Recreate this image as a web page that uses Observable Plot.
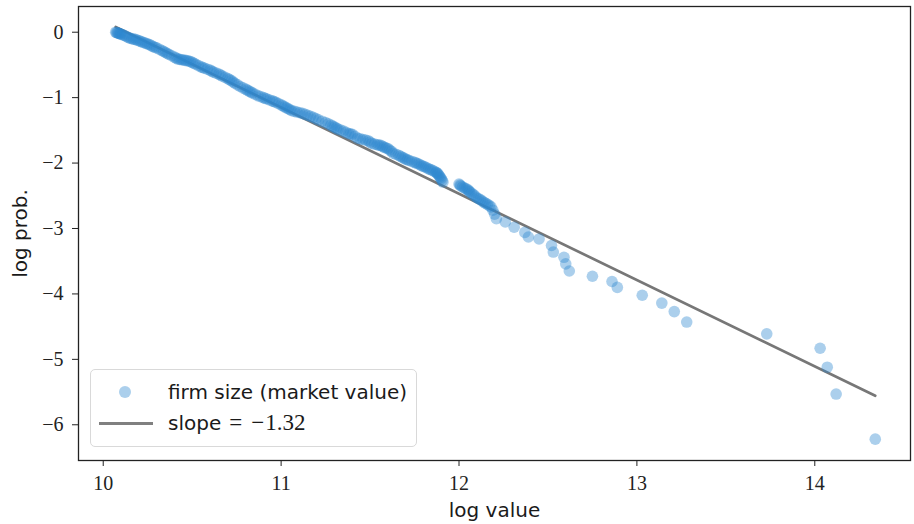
<!DOCTYPE html>
<html><head><meta charset="utf-8">
<script src="https://cdn.jsdelivr.net/npm/d3@7"></script>
<script src="https://cdn.jsdelivr.net/npm/@observablehq/plot@0.6"></script>
<style>
body{margin:0;background:#fff;}
#wrap{position:relative;width:914px;height:524px;}
#legend{position:absolute;left:90px;top:369px;width:327px;height:78px;border:1.5px solid #d9d9d9;border-radius:5px;background:rgba(255,255,255,0.8);box-sizing:border-box;font-family:"DejaVu Sans";font-size:20px;color:#1a1a1a;}
#legend .dot{position:absolute;left:28px;top:16px;width:12px;height:12px;border-radius:50%;background:#2d88cf;opacity:0.4;}
#legend .ln{position:absolute;left:8px;top:52px;width:54px;height:3px;background:#808080;}
#legend .t1{position:absolute;left:77px;top:9px;line-height:26px;white-space:nowrap;}
#legend .t2{position:absolute;left:77px;top:40px;line-height:26px;white-space:nowrap;}
#legend .m{font-family:"Liberation Serif";font-size:23px;}
#legend .eq{margin:0 9px 0 8px;}
#legend .mi{margin-right:1px;}
</style>
</head><body>
<div id="wrap"><div id="chart"></div>
<div id="legend"><div class="dot"></div><div class="t1">firm size (market value)</div><div class="ln"></div><div class="t2">slope<span class="m"><span class="eq">=</span><span class="mi">−</span>1.32</span></div></div>
</div>
<script>
// sparse / readable points (log value, log prob.)
const logValue = [
10.07,10.08,10.09,10.10,10.12,10.14,10.16,10.18,10.20,10.22,10.24,10.26,10.28,10.30,10.33,10.35,10.37,10.40,10.42,10.44,
10.46,10.48,10.50,10.52,10.55,10.57,10.60,10.62,10.65,10.67,10.70,10.72,10.74,10.77,10.80,10.82,10.84,10.87,10.90,10.92,
10.95,10.97,11.00,11.02,11.04,11.06,11.09,11.12,11.15,11.18,11.21,11.25,11.28,11.30,11.32,11.35,11.38,11.40,11.43,11.46,
11.49,11.51,11.54,11.56,11.58,11.60,11.62,11.63,11.66,11.68,11.70,11.72,11.75,11.77,11.79,11.81,11.83,11.85,11.87,11.88,
11.89,11.90,11.91,12.00,12.01,12.03,12.05,12.06,12.08,12.10,12.12,12.14,12.16,12.18,12.19,12.20,12.21,12.26,12.31,12.37,
12.39,12.45,12.52,12.53,12.59,12.60,12.62,12.75,12.86,12.89,13.03,13.14,13.21,13.28,13.73,14.03,14.07,14.12,14.34
];
const logProb = [
0.00,-0.01,-0.02,-0.03,-0.05,-0.08,-0.10,-0.11,-0.13,-0.15,-0.17,-0.19,-0.22,-0.24,-0.28,-0.31,-0.34,-0.38,-0.41,-0.42,
-0.43,-0.44,-0.46,-0.49,-0.53,-0.55,-0.58,-0.61,-0.64,-0.67,-0.71,-0.74,-0.78,-0.83,-0.87,-0.90,-0.93,-0.97,-1.00,-1.02,
-1.05,-1.07,-1.11,-1.14,-1.17,-1.20,-1.22,-1.24,-1.27,-1.30,-1.34,-1.38,-1.42,-1.45,-1.48,-1.51,-1.55,-1.56,-1.62,-1.64,
-1.66,-1.70,-1.72,-1.73,-1.76,-1.78,-1.82,-1.85,-1.88,-1.91,-1.94,-1.96,-1.99,-2.01,-2.04,-2.06,-2.09,-2.11,-2.14,-2.16,
-2.20,-2.24,-2.29,-2.32,-2.35,-2.38,-2.41,-2.44,-2.48,-2.53,-2.56,-2.60,-2.63,-2.67,-2.72,-2.78,-2.85,-2.90,-2.98,-3.06,
-3.13,-3.16,-3.26,-3.36,-3.44,-3.54,-3.65,-3.73,-3.81,-3.90,-4.02,-4.14,-4.27,-4.43,-4.61,-4.83,-5.12,-5.53,-6.22
];
// further points estimated inside the dense band (many small firms)
const bandValue = [
10.075,10.085,10.095,10.11,10.13,10.15,10.17,10.19,10.21,10.23,10.25,10.27,10.29,10.315,10.34,10.36,10.385,10.41,10.43,10.45,
10.47,10.49,10.51,10.535,10.56,10.585,10.61,10.635,10.66,10.685,10.71,10.73,10.755,10.785,10.81,10.83,10.855,10.885,10.91,10.935,
10.96,10.985,11.01,11.03,11.05,11.075,11.105,11.135,11.165,11.195,11.23,11.265,11.29,11.31,11.335,11.365,11.39,11.415,11.445,11.475,
11.50,11.525,11.55,11.57,11.59,11.61,11.645,11.67,11.69,11.71,11.735,11.76,11.78,11.80,11.82,11.84,11.86,11.875,11.885,11.895,
11.905,12.005,12.02,12.04,12.055,12.07,12.09,12.11,12.13,12.15,12.17
];
const bandProb = [
-0.005,-0.015,-0.025,-0.04,-0.065,-0.09,-0.105,-0.12,-0.14,-0.16,-0.18,-0.205,-0.23,-0.26,-0.295,-0.325,-0.36,-0.395,-0.415,-0.425,
-0.435,-0.45,-0.475,-0.51,-0.54,-0.565,-0.595,-0.625,-0.655,-0.69,-0.725,-0.76,-0.805,-0.85,-0.885,-0.915,-0.95,-0.985,-1.01,-1.035,
-1.06,-1.09,-1.125,-1.155,-1.185,-1.21,-1.23,-1.255,-1.285,-1.32,-1.36,-1.40,-1.435,-1.465,-1.495,-1.53,-1.555,-1.59,-1.63,-1.65,
-1.68,-1.71,-1.725,-1.745,-1.77,-1.80,-1.865,-1.895,-1.925,-1.95,-1.975,-2.00,-2.025,-2.05,-2.075,-2.10,-2.125,-2.15,-2.18,-2.22,
-2.265,-2.335,-2.365,-2.395,-2.425,-2.46,-2.505,-2.545,-2.58,-2.615,-2.65
];
const xTicks = [10, 11, 12, 13, 14];
const yTicks = [0, -1, -2, -3, -4, -5, -6];
const slope = -1.32;
const fitIntercept = 13.372;

const points = logValue.map((x, i) => ({x, y: logProb[i]}))
  .concat(bandValue.map((x, i) => ({x, y: bandProb[i]})));
const xMin = d3.min(logValue), xMax = d3.max(logValue);
const fitLine = [xMin, xMax].map(x => ({x, y: fitIntercept + slope * x}));
const fmt = d => d < 0 ? "\u2212" + Math.abs(d) : String(d);

const chart = Plot.plot({
  width: 914, height: 524,
  marginLeft: 78, marginRight: 4, marginTop: 6, marginBottom: 64,
  x: {domain: [9.861, 14.538]},
  y: {domain: [-6.546, 0.393]},
  style: {fontFamily: "Liberation Serif", fontSize: "20px", color: "#222", background: "white"},
  marks: [
    Plot.line(fitLine, {x: "x", y: "y", stroke: "#777", strokeWidth: 2.7}),
    Plot.dot(points, {x: "x", y: "y", r: 5.8, fill: "#2d88cf", fillOpacity: 0.4}),
    Plot.frame({stroke: "#222", strokeWidth: 1.3}),
    Plot.axisX({ticks: xTicks, tickSize: 6, tickPadding: 9, label: null, fontSize: 20, tickFormat: fmt}),
    Plot.axisY({ticks: yTicks, tickSize: 6, tickPadding: 9, label: null, fontSize: 20, tickFormat: fmt}),
    Plot.text(["log value"], {text: d => d, frameAnchor: "bottom", lineAnchor: "middle", dy: 50, fontFamily: "DejaVu Sans", fontSize: 20, fill: "#1a1a1a"}),
    Plot.text(["log prob."], {text: d => d, frameAnchor: "left", textAnchor: "middle", lineAnchor: "middle", rotate: -90, dx: -58, fontFamily: "DejaVu Sans", fontSize: 20, fill: "#1a1a1a"})
  ]
});
document.getElementById("chart").appendChild(chart);
</script>
</body></html>
